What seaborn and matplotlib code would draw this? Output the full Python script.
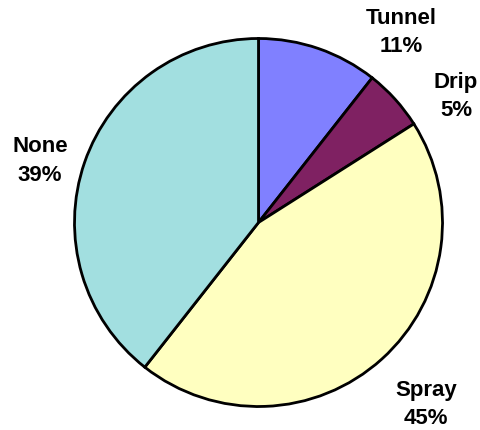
import matplotlib
matplotlib.use("Agg")
import matplotlib.pyplot as plt
import seaborn as sns

sns.set_theme(style="white")
plt.rcParams["font.family"] = ["Liberation Sans", "DejaVu Sans"]

categories = ["Tunnel", "Drip", "Spray", "None"]
shares = [10.6, 5.4, 44.6, 39.4]
colors = ["#8080FF", "#7F2162", "#FFFFC0", "#A2DFE0"]

# label spots (in pie radius units), as Excel put them
label_xy = [(0.774, 1.04), (1.073, 0.69), (0.91, -0.985), (-1.187, 0.34)]

fig = plt.figure(figsize=(4.81, 4.31), dpi=100)
ax = fig.add_axes([0, 0, 1, 1])

wedges, _ = ax.pie(
    shares,
    colors=colors,
    startangle=90,
    counterclock=False,
    wedgeprops=dict(edgecolor="black", linewidth=2),
)

for name, val, (x, y) in zip(categories, shares, label_xy):
    ax.text(x, y, f"{name}\n{val:.0f}%", ha="center", va="center", color="black",
            fontsize=16, fontweight="bold", linespacing=1.45)

# pie centre at (258.5, 223.5) px, radius 184 px
r = 184.0
cx, cy = 258.5, 223.5
ax.set_xlim(-cx / r, (481 - cx) / r)
ax.set_ylim(-(431 - cy) / r, cy / r)
ax.set_aspect("auto")
ax.axis("off")

fig.savefig("out.png", dpi=100)
